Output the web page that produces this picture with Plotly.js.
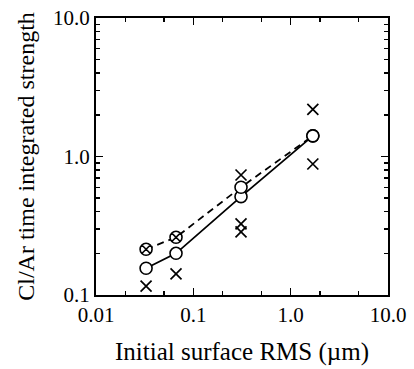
<!DOCTYPE html>
<html>
<head>
<meta charset="utf-8">
<script src="https://cdn.plot.ly/plotly-3.0.1.min.js"></script>
<style>html,body{margin:0;padding:0;background:#fff;}#chart{width:414px;height:369px;}</style>
</head>
<body>
<div id="chart"></div>
<script>
// Initial surface RMS (µm)
const rms = [0.0327, 0.0664, 0.309, 1.69];
// solid curve (open circles)
const solidStrength = [0.156, 0.2, 0.513, 1.41];
// dashed curve (crossed circles / open circles)
const dashedStrength = [0.214, 0.261, 0.6, 1.41];
const dashedSymbols = ['circle-x', 'circle-x', 'circle', 'circle'];
// individual measurements (x marks)
const crossRms = [0.0327, 0.0664, 0.309, 0.309, 0.309, 1.69, 1.69];
const crossStrength = [0.116, 0.142, 0.735, 0.326, 0.286, 2.19, 0.883];
// tick labels
const xTickVals = [0.01, 0.1, 1, 10];
const xTickText = ['0.01', '0.1', '1.0', '10.0'];
const yTickVals = [0.1, 1, 10];
const yTickText = ['0.1', '1.0', '10.0'];

const font = 'Liberation Serif, Times New Roman, serif';

const traces = [
  {
    x: rms, y: solidStrength, type: 'scatter', mode: 'lines+markers',
    line: {color: '#000', width: 1.8},
    marker: {symbol: 'circle', size: 12, color: '#fff', line: {color: '#000', width: 1.6}},
    showlegend: false
  },
  {
    x: rms, y: dashedStrength, type: 'scatter', mode: 'lines+markers',
    line: {color: '#000', width: 1.8, dash: '7px,5px'},
    marker: {symbol: dashedSymbols, size: 12, color: '#fff', line: {color: '#000', width: 1.6}},
    showlegend: false
  },
  {
    x: crossRms, y: crossStrength, type: 'scatter', mode: 'markers',
    marker: {symbol: 'x-thin-open', size: 11, color: '#000', line: {color: '#000', width: 1.7}},
    showlegend: false
  }
];

const axisCommon = {
  type: 'log',
  showgrid: false, zeroline: false,
  showline: true, linecolor: '#000', linewidth: 2, mirror: 'allticks',
  ticks: 'inside', ticklen: 7, tickwidth: 1.6, tickcolor: '#000',
  tickfont: {family: font, size: 21, color: '#000'},
  tickmode: 'array'
};

const layout = {
  width: 414, height: 369,
  margin: {l: 96, r: 26, t: 18, b: 74},
  paper_bgcolor: '#fff', plot_bgcolor: '#fff',
  xaxis: Object.assign({}, axisCommon, {
    range: [-2, 1],
    tickvals: xTickVals, ticktext: xTickText,
    minor: {dtick: 'D2', ticks: 'inside', ticklen: 4, tickwidth: 1.4, tickcolor: '#000'},
    title: {text: 'Initial surface RMS (µm)', font: {family: font, size: 25, color: '#000'}, standoff: 16}
  }),
  yaxis: Object.assign({}, axisCommon, {
    range: [-1, 1],
    tickvals: yTickVals, ticktext: yTickText,
    minor: {dtick: 'D1', ticks: 'inside', ticklen: 4, tickwidth: 1.4, tickcolor: '#000'},
    title: {text: 'Cl/Ar time integrated strength', font: {family: font, size: 24, color: '#000'}, standoff: 12}
  })
};

Plotly.newPlot('chart', traces, layout, {staticPlot: true, displayModeBar: false});
</script>
</body>
</html>
